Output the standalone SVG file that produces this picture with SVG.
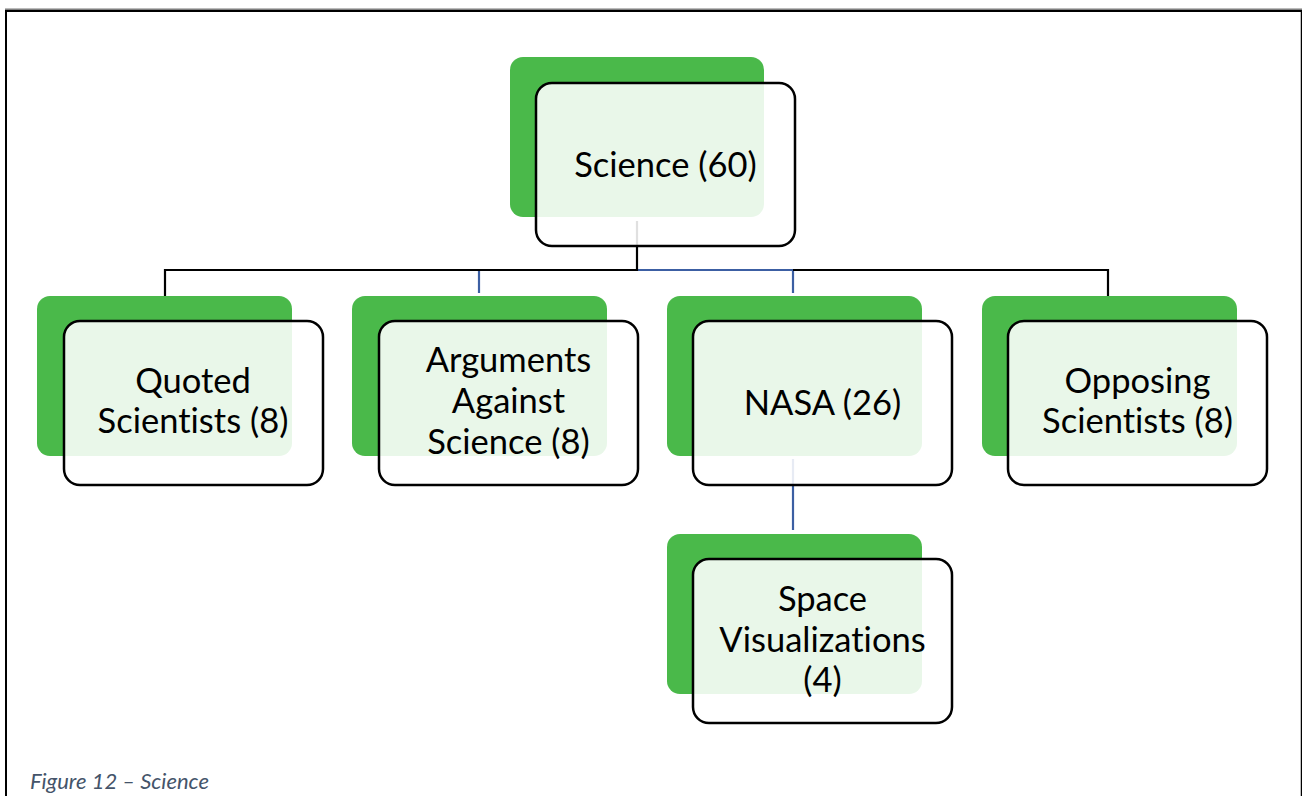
<svg xmlns="http://www.w3.org/2000/svg" width="1302" height="796" viewBox="0 0 1302 796">
  <style>
    .back { fill: #4AB94A; }
    .front { fill: #FFFFFF; fill-opacity: 0.88; stroke: #000000; stroke-width: 2.5; }
    .lbl { font-family: Lato, "Noto Sans", sans-serif; font-size: 34.5px; fill: #000000; text-anchor: middle; font-variant-ligatures: none; }
    .blk { stroke: #000000; stroke-width: 2.2; fill: none; }
    .blu { stroke: #3C5FA3; stroke-width: 2.2; fill: none; }
    .cap { font-family: Lato, "Noto Sans", sans-serif; font-style: italic; font-size: 22px; fill: #44546A; font-variant-ligatures: none; }
  </style>
  <rect width="1302" height="796" fill="#FFFFFF"/>

  <!-- page frame -->
  <g id="frame">
    <line x1="5" y1="8.5" x2="1302" y2="8.5" stroke="#BBBBBB" stroke-width="1"/>
    <line x1="5" y1="10.8" x2="1302" y2="10.8" stroke="#000000" stroke-width="2.5"/>
    <line x1="6" y1="10" x2="6" y2="796" stroke="#000000" stroke-width="2"/>
    <line x1="1301.5" y1="10" x2="1301.5" y2="796" stroke="#000000" stroke-width="1.5"/>
  </g>

  <!-- connectors -->
  <g id="connectors">
    <polyline class="blu" points="637,270 793,270 793,293"/>
    <line class="blu" x1="479" y1="270" x2="479" y2="293"/>
    <polyline class="blk" points="165,296 165,270 637,270"/>
    <polyline class="blk" points="793,270 1108,270 1108,296"/>
    <line class="blk" x1="637" y1="221" x2="637" y2="271"/>
    <line class="blu" x1="793" y1="459" x2="793" y2="530"/>
  </g>

  <g id="science">
    <rect class="back" x="510" y="57" width="254" height="160" rx="13"/>
    <rect class="front" x="536" y="83" width="259" height="163" rx="16"/>
    <text class="lbl" x="665.5" y="177">Science (60)</text>
  </g>

  <g id="quoted">
    <rect class="back" x="37" y="296" width="255" height="160" rx="13"/>
    <rect class="front" x="64" y="321" width="259" height="164" rx="16"/>
    <text class="lbl" x="193" y="393">Quoted</text>
    <text class="lbl" x="193" y="433">Scientists (8)</text>
  </g>

  <g id="arguments">
    <rect class="back" x="352" y="296" width="255" height="160" rx="13"/>
    <rect class="front" x="379" y="321" width="259" height="164" rx="16"/>
    <text class="lbl" x="508.5" y="372">Arguments</text>
    <text class="lbl" x="508.5" y="413">Against</text>
    <text class="lbl" x="508.5" y="454">Science (8)</text>
  </g>

  <g id="nasa">
    <rect class="back" x="667" y="296" width="255" height="160" rx="13"/>
    <rect class="front" x="693" y="321" width="259" height="164" rx="16"/>
    <text class="lbl" x="822.5" y="415">NASA (26)</text>
  </g>

  <g id="opposing">
    <rect class="back" x="982" y="296" width="255" height="160" rx="13"/>
    <rect class="front" x="1008" y="321" width="259" height="164" rx="16"/>
    <text class="lbl" x="1137.5" y="393">Opposing</text>
    <text class="lbl" x="1137.5" y="433">Scientists (8)</text>
  </g>

  <g id="space">
    <rect class="back" x="667" y="534" width="255" height="160" rx="13"/>
    <rect class="front" x="693" y="559" width="259" height="164" rx="16"/>
    <text class="lbl" x="822.5" y="611">Space</text>
    <text class="lbl" x="822.5" y="652">Visualizations</text>
    <text class="lbl" x="822.5" y="692">(4)</text>
  </g>

  <text class="cap" x="30" y="789">Figure 12 – Science</text>
</svg>
